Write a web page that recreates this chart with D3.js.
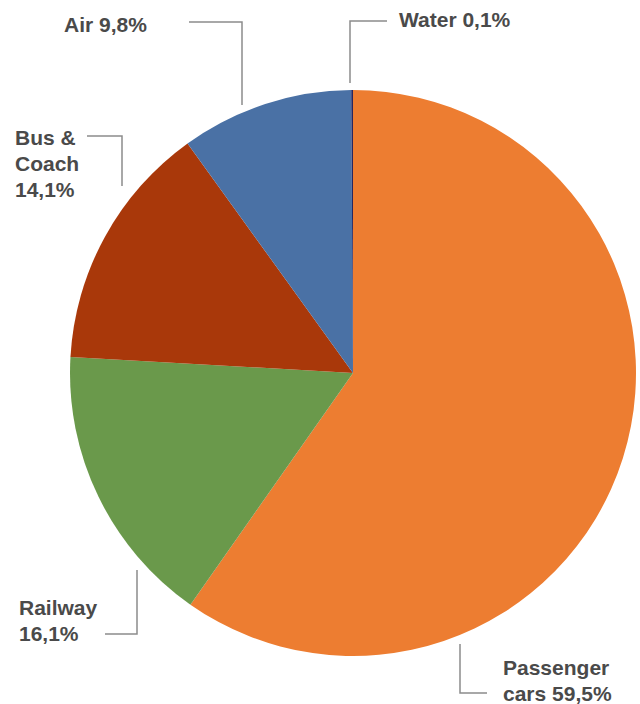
<!DOCTYPE html>
<html>
<head>
<meta charset="utf-8">
<script src="https://cdn.jsdelivr.net/npm/d3@7"></script>
<style>
  html, body { margin: 0; padding: 0; background: #fff; }
  svg { display: block; }
</style>
</head>
<body>
<svg id="chart" width="640" height="704"></svg>
<script>
// Modal split of passenger transport (%)
const categories = ["Passenger cars", "Railway", "Bus & Coach", "Air", "Water"];
const shares = [59.5, 16.1, 14.1, 9.8, 0.1];
const labelLines = [
  ["Passenger", "cars 59,5%"],
  ["Railway", "16,1%"],
  ["Bus &", "Coach", "14,1%"],
  ["Air 9,8%"],
  ["Water 0,1%"]
];
const colors = ["#ED7D31", "#6A994B", "#A9380A", "#4A71A5", "#262760"];

// Label placement and leader-line routes
const layout = [
  { x: 503, y: 675, leader: [[460, 644], [460, 693], [487, 693]] },
  { x: 19,  y: 615, leader: [[137, 570], [137, 634], [105, 634]] },
  { x: 15,  y: 145, leader: [[87, 136], [122, 136], [122, 186]] },
  { x: 64,  y: 32,  leader: [[189, 22], [242, 22], [242, 105]] },
  { x: 399, y: 27,  leader: [[387, 21], [350, 21], [350, 83]] }
];

const cx = 353, cy = 373, radius = 283, lineHeight = 26;
const svg = d3.select("#chart");

const pie = d3.pie().sort(null).value(d => d.value);
const arc = d3.arc().innerRadius(0).outerRadius(radius);
const data = categories.map((c, i) => ({ name: c, value: shares[i], i }));

svg.append("g")
  .attr("transform", `translate(${cx},${cy})`)
  .selectAll("path")
  .data(pie(data))
  .join("path")
  .attr("d", arc)
  .attr("fill", d => colors[d.data.i]);

const line = d3.line();
svg.append("g")
  .selectAll("path")
  .data(layout)
  .join("path")
  .attr("d", d => line(d.leader))
  .attr("fill", "none")
  .attr("stroke", "#8c8c8c")
  .attr("stroke-width", 1.5);

const labels = svg.append("g")
  .attr("font-family", "'Liberation Sans', Arial, Helvetica, sans-serif")
  .attr("font-weight", "bold")
  .attr("font-size", 21)
  .attr("fill", "#4a4a4a");

labels.selectAll("text")
  .data(layout)
  .join("text")
  .attr("x", d => d.x)
  .attr("y", d => d.y)
  .each(function (d, i) {
    d3.select(this).selectAll("tspan")
      .data(labelLines[i])
      .join("tspan")
      .attr("x", d.x)
      .attr("dy", (t, k) => k === 0 ? 0 : lineHeight)
      .text(t => t);
  });
</script>
</body>
</html>
